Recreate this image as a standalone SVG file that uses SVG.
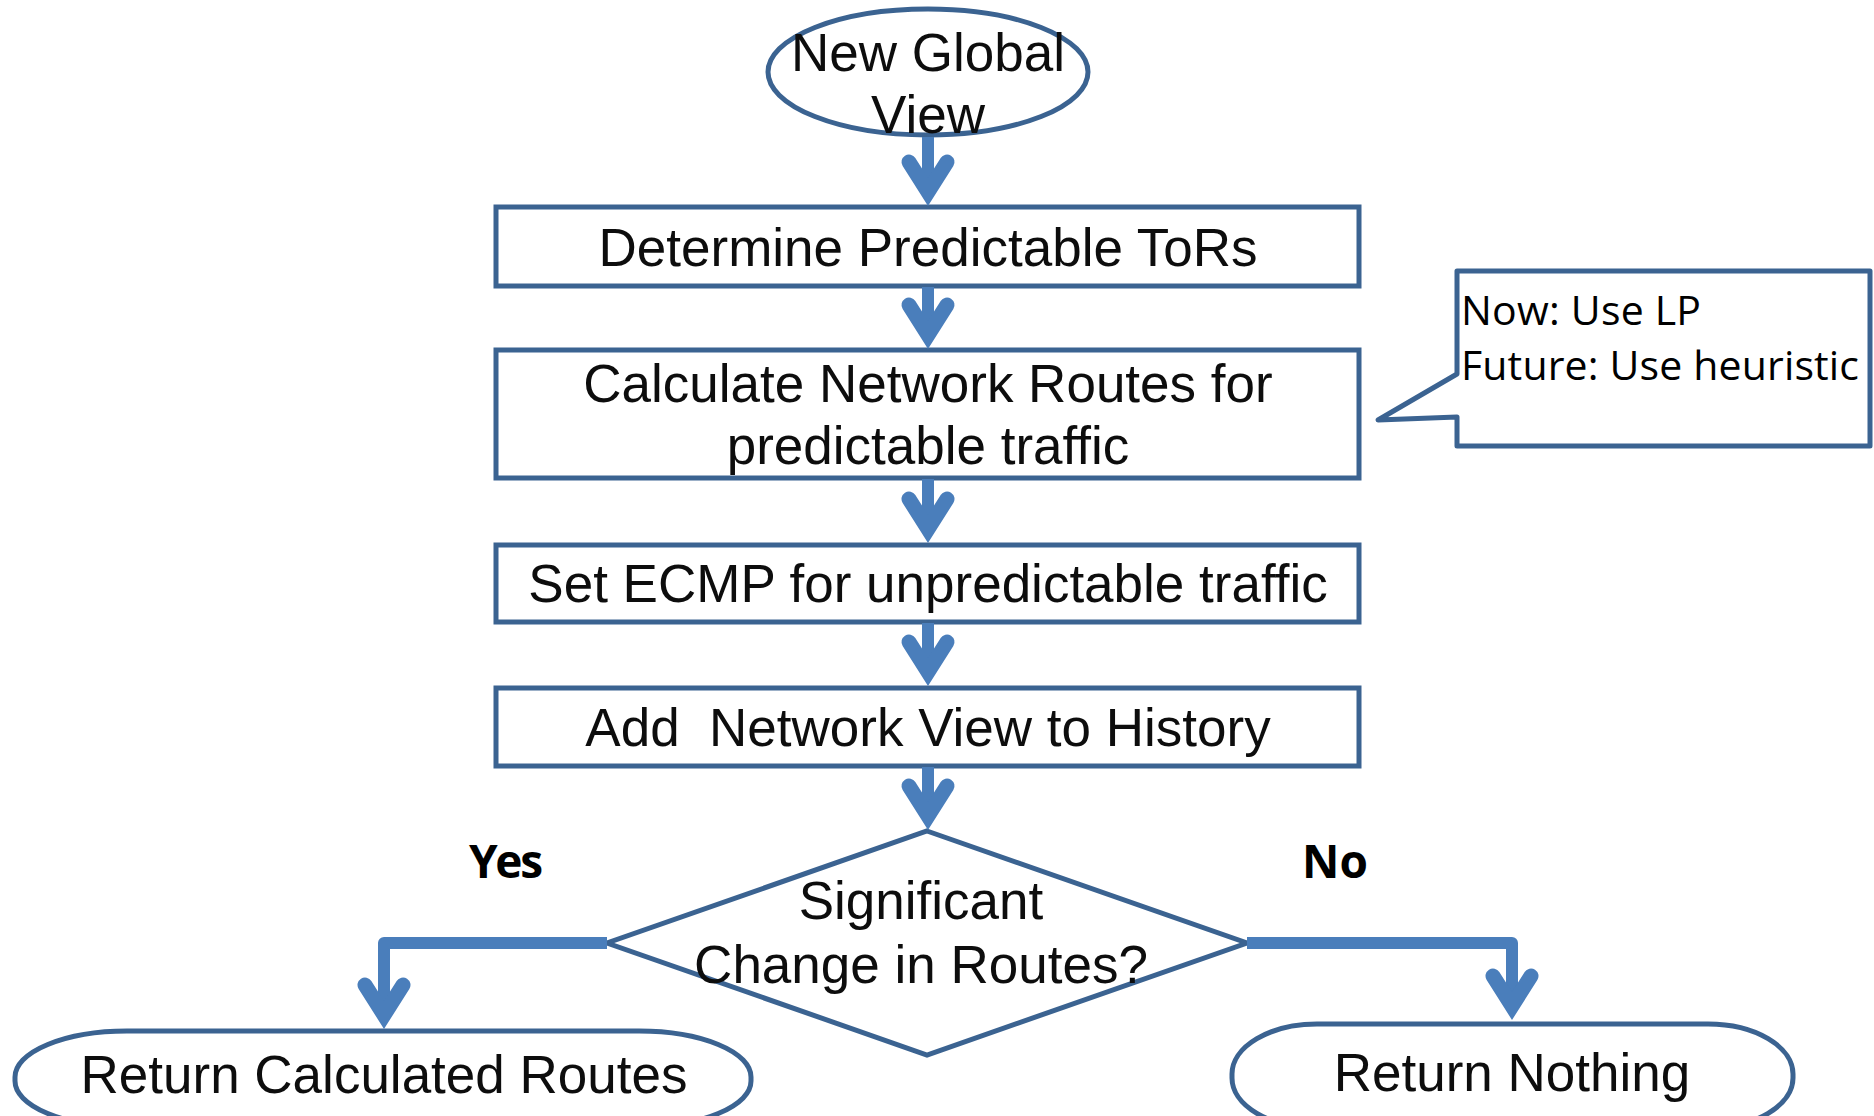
<svg xmlns="http://www.w3.org/2000/svg" width="1874" height="1116" viewBox="0 0 1874 1116">
<style>
.shape{fill:#fff;stroke:#3b6391;stroke-width:5}
.t{font-family:"Liberation Sans",Arial,sans-serif;font-size:53px;fill:#0d0d0d;text-anchor:middle;white-space:pre}
.lbl{font-family:"Open Sans","Liberation Sans",sans-serif;font-weight:bold;font-size:46px;fill:#000}
.note{font-family:"Open Sans","Liberation Sans",sans-serif;font-size:41px;fill:#000}
.conn{fill:none;stroke:#4a7ebb;stroke-width:12;stroke-linejoin:round}
</style>
<defs>
<marker id="arr" markerUnits="userSpaceOnUse" orient="auto" viewBox="-60 -35 70 70" markerWidth="70" markerHeight="70" refX="0" refY="0" overflow="visible">
<path d="M-30,-19 L0,0 L-30,19" fill="none" stroke="#4a7ebb" stroke-width="15" stroke-linecap="round" stroke-linejoin="miter"/>
</marker>
</defs>
<g id="n-start">
<ellipse class="shape" cx="928" cy="72" rx="160" ry="63"/>
<text class="t" x="928" y="71">New Global</text>
<text class="t" x="928" y="133">View</text>
</g>
<g id="n-determine">
<rect class="shape" x="496" y="207" width="863" height="79"/>
<text class="t" x="928" y="266">Determine Predictable ToRs</text>
</g>
<g id="n-calc">
<rect class="shape" x="496" y="350" width="863" height="128"/>
<text class="t" x="928" y="402">Calculate Network Routes for</text>
<text class="t" x="928" y="464">predictable traffic</text>
</g>
<g id="n-ecmp">
<rect class="shape" x="496" y="545" width="863" height="77"/>
<text class="t" x="928" y="602">Set ECMP for unpredictable traffic</text>
</g>
<g id="n-history">
<rect class="shape" x="496" y="688" width="863" height="78"/>
<text class="t" x="928" y="746">Add  Network View to History</text>
</g>
<g id="n-decision">
<polygon class="shape" points="927,831 1247,943 927,1055 607,943"/>
<text class="t" x="921" y="919">Significant</text>
<text class="t" x="921" y="983">Change in Routes?</text>
</g>
<g id="n-return-routes">
<rect class="shape" x="15" y="1031" width="736" height="96" rx="112" ry="46"/>
<text class="t" x="384" y="1093">Return Calculated Routes</text>
</g>
<g id="n-return-nothing">
<rect class="shape" x="1232" y="1024" width="561" height="104" rx="85" ry="50"/>
<text class="t" x="1512" y="1091">Return Nothing</text>
</g>
<g id="n-note">
<path class="shape" d="M1457,271 H1870 V446 H1457 V417 L1378,420 L1457,374 Z" stroke-linejoin="round"/>
<text class="note" x="1461" y="325" textLength="240">Now: Use LP</text>
<text class="note" x="1461" y="380" textLength="398">Future: Use heuristic</text>
</g>
<g id="labels">
<text class="lbl" x="469" y="878" textLength="74">Yes</text>
<text class="lbl" x="1302" y="878" textLength="66">No</text>
</g>
<g id="connectors">
<path class="conn" d="M928,137 V192" marker-end="url(#arr)"/>
<path class="conn" d="M928,287 V335" marker-end="url(#arr)"/>
<path class="conn" d="M928,479 V529" marker-end="url(#arr)"/>
<path class="conn" d="M928,623 V672" marker-end="url(#arr)"/>
<path class="conn" d="M928,767 V816" marker-end="url(#arr)"/>
<path class="conn" d="M607,943 H384 V1015" marker-end="url(#arr)"/>
<path class="conn" d="M1247,943 H1512 V1006" marker-end="url(#arr)"/>
</g>
</svg>
